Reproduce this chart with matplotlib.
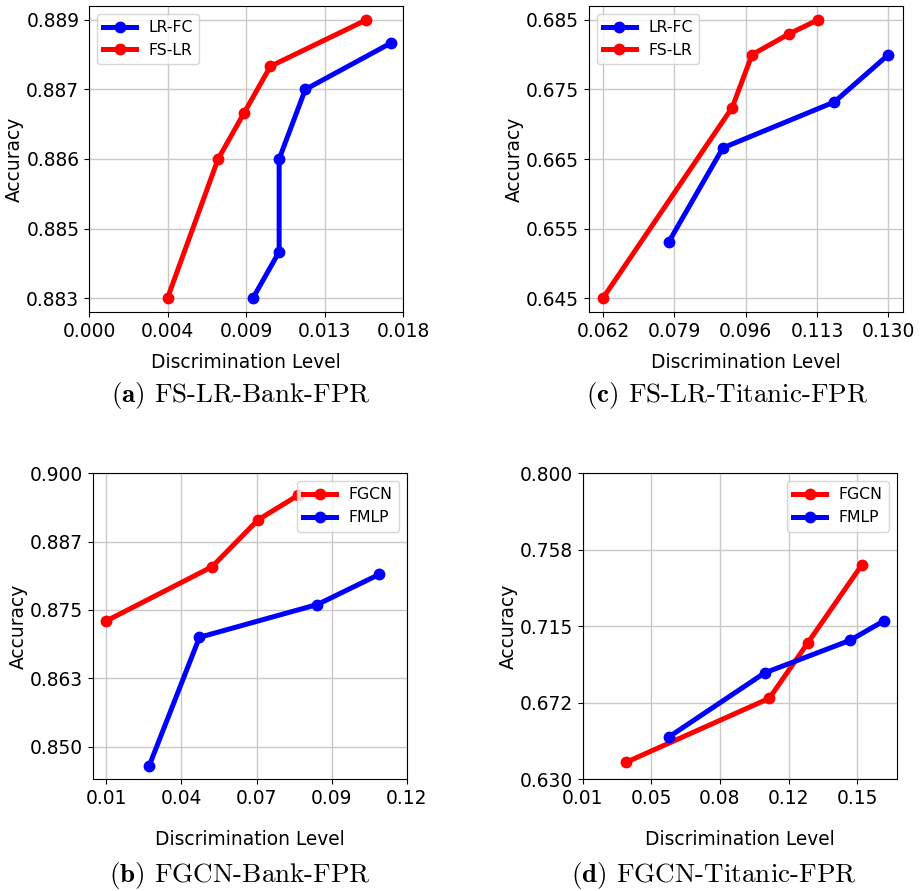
import numpy as np
import matplotlib
matplotlib.use("Agg")
import matplotlib.pyplot as plt

plt.rcParams['mathtext.fontset'] = 'cm'

# (a) FS-LR-Bank-FPR
a_lrfc_x = [0.0094, 0.0109, 0.0109, 0.0124, 0.0173]
a_lrfc_y = [0.8830, 0.8840, 0.8860, 0.8875, 0.8885]
a_fslr_x = [0.0045, 0.0074, 0.0089, 0.0104, 0.0159]
a_fslr_y = [0.8830, 0.8860, 0.8870, 0.8880, 0.8890]
a_xticklabels = ["0.000", "0.004", "0.009", "0.013", "0.018"]
a_yticklabels = ["0.883", "0.885", "0.886", "0.887", "0.889"]

# (c) FS-LR-Titanic-FPR
c_lrfc_x = [0.0776, 0.0904, 0.1168, 0.1296]
c_lrfc_y = [0.6531, 0.6666, 0.6732, 0.6800]
c_fslr_x = [0.0620, 0.0926, 0.0973, 0.1061, 0.1129]
c_fslr_y = [0.6450, 0.6724, 0.6800, 0.6830, 0.6850]
c_xticklabels = ["0.062", "0.079", "0.096", "0.113", "0.130"]
c_yticklabels = ["0.645", "0.655", "0.665", "0.675", "0.685"]

# (b) FGCN-Bank-FPR
b_fgcn_x = [0.0100, 0.0487, 0.0656, 0.0803]
b_fgcn_y = [0.8730, 0.8829, 0.8915, 0.8960]
b_fmlp_x = [0.0257, 0.0441, 0.0873, 0.1099]
b_fmlp_y = [0.8465, 0.8700, 0.8760, 0.8815]
b_xticklabels = ["0.01", "0.04", "0.07", "0.09", "0.12"]
b_yticklabels = ["0.850", "0.863", "0.875", "0.887", "0.900"]

# (d) FGCN-Titanic-FPR
d_fgcn_x = [0.0320, 0.1052, 0.1249, 0.1524]
d_fgcn_y = [0.6394, 0.6750, 0.7059, 0.7491]
d_fmlp_x = [0.0542, 0.1028, 0.1464, 0.1636]
d_fmlp_y = [0.6537, 0.6891, 0.7072, 0.7180]
d_xticklabels = ["0.01", "0.05", "0.08", "0.12", "0.15"]
d_yticklabels = ["0.630", "0.672", "0.715", "0.758", "0.800"]


def draw(ax, series, xrange, yrange, xlabels, ylabels, legend_loc, xpad):
    for x, y, color, label in series:
        ax.plot(x, y, color=color, marker='o', lw=3.6, ms=7.5, label=label)
    ax.set_xticks(np.linspace(xrange[0], xrange[1], len(xlabels)))
    ax.set_xticklabels(xlabels)
    ax.set_yticks(np.linspace(yrange[0], yrange[1], len(ylabels)))
    ax.set_yticklabels(ylabels)
    ax.tick_params(labelsize=13.4)
    ax.grid(True, color='#c8c8c8', lw=1.0)
    ax.set_xlabel("Discrimination Level", fontsize=13.4, labelpad=xpad)
    ax.set_ylabel("Accuracy", fontsize=13.4, labelpad=1.5)
    ax.legend(loc=legend_loc, fontsize=11.3, handlelength=2.1)


fig = plt.figure(figsize=(9.23, 8.91), dpi=100)
W, H = 923, 891

def add_ax(left, top, w=314, h=306):
    return fig.add_axes([left / W, 1 - (top + h) / H, w / W, h / H])

ax_a = add_ax(89, 6)
draw(ax_a, [(a_lrfc_x, a_lrfc_y, 'blue', 'LR-FC'), (a_fslr_x, a_fslr_y, 'red', 'FS-LR')],
     (0.0, 0.018), (0.883, 0.889), a_xticklabels, a_yticklabels, 'upper left', 9)

ax_c = add_ax(588.7, 6)
draw(ax_c, [(c_lrfc_x, c_lrfc_y, 'blue', 'LR-FC'), (c_fslr_x, c_fslr_y, 'red', 'FS-LR')],
     (0.062, 0.1296), (0.645, 0.685), c_xticklabels, c_yticklabels, 'upper left', 9)

ax_b = add_ax(92.7, 473.3)
draw(ax_b, [(b_fgcn_x, b_fgcn_y, 'red', 'FGCN'), (b_fmlp_x, b_fmlp_y, 'blue', 'FMLP')],
     (0.01, 0.12), (0.85, 0.90), b_xticklabels, b_yticklabels, 'upper right', 15.5)

ax_d = add_ax(582.7, 473.3)
draw(ax_d, [(d_fgcn_x, d_fgcn_y, 'red', 'FGCN'), (d_fmlp_x, d_fmlp_y, 'blue', 'FMLP')],
     (0.01, 0.15), (0.63, 0.80), d_xticklabels, d_yticklabels, 'upper right', 15.5)

captions = [
    (240.5, 402, "(a)", "FS-LR-Bank-FPR"),
    (727.5, 402, "(c)", "FS-LR-Titanic-FPR"),
    (240, 882, "(b)", "FGCN-Bank-FPR"),
    (714, 882, "(d)", "FGCN-Titanic-FPR"),
]
for cx, cy, tag, name in captions:
    fig.text(cx / W, 1 - cy / H, r"$\mathbf{" + tag + "}$ " + name,
             ha='center', va='baseline', fontsize=19.5, family='cmr10')

fig.savefig("out.png", dpi=100)
